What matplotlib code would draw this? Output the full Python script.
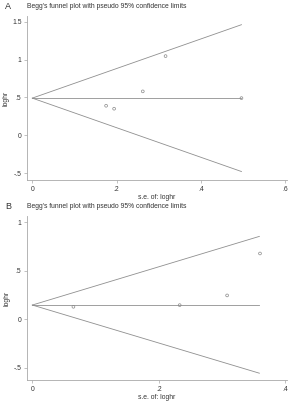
import matplotlib
matplotlib.use("Agg")
import matplotlib.pyplot as plt

plt.rcParams['font.family'] = ['Liberation Sans', 'DejaVu Sans']

# Panel A data
a_se = [0.175, 0.194, 0.262, 0.316, 0.496]
a_loghr = [0.389, 0.350, 0.579, 1.045, 0.490]
a_theta = 0.49
a_funnel_x = [0.0, 0.496]
a_upper = [0.49, 1.46]
a_lower = [0.49, -0.48]
a_xticks = [0, 0.2, 0.4, 0.6]
a_xlabels = ['0', '.2', '.4', '.6']
a_yticks = [-0.5, 0, 0.5, 1, 1.5]
a_ylabels = ['-.5', '0', '.5', '1', '1.5']

# Panel B data
b_se = [0.065, 0.233, 0.308, 0.360]
b_loghr = [0.127, 0.144, 0.244, 0.676]
b_theta = 0.145
b_funnel_x = [0.0, 0.359]
b_upper = [0.145, 0.852]
b_lower = [0.145, -0.557]
b_xticks = [0, 0.2, 0.4]
b_xlabels = ['0', '.2', '.4']
b_yticks = [-0.5, 0, 0.5, 1]
b_ylabels = ['-.5', '0', '.5', '1']

title = "Begg's funnel plot with pseudo 95% confidence limits"
line_col = '#8f8f8f'
axis_col = '#a8a8a8'
text_col = '#333333'
fs = 4.9

fig = plt.figure(figsize=(2.95, 4.01), dpi=100)


def draw_panel(rect, letter, se, loghr, theta, fx, up, lo, xlim, ylim,
               xticks, xlabels, yticks, ylabels):
    ax = fig.add_axes(rect)
    ax.plot(fx, up, color=line_col, lw=0.6)
    ax.plot(fx, lo, color=line_col, lw=0.6)
    ax.plot(fx, [theta, theta], color=line_col, lw=0.6)
    ax.scatter(se, loghr, s=4, facecolors='none', edgecolors='#888888',
               linewidths=0.5, zorder=3)
    ax.set_xlim(*xlim)
    ax.set_ylim(*ylim)
    ax.set_xticks(xticks)
    ax.set_xticklabels(xlabels)
    ax.set_yticks(yticks)
    ax.set_yticklabels(ylabels)
    for s in ['top', 'right']:
        ax.spines[s].set_visible(False)
    for s in ['left', 'bottom']:
        ax.spines[s].set_color(axis_col)
        ax.spines[s].set_linewidth(0.6)
    ax.tick_params(labelsize=fs, colors=axis_col, labelcolor=text_col,
                   length=2.5, width=0.5, pad=1.5)
    ax.set_xlabel('s.e. of: loghr', fontsize=fs, color=text_col, labelpad=1)
    ax.set_ylabel('loghr', fontsize=fs, color=text_col, labelpad=2)
    ax.text(0.0, 1.06, title, transform=ax.transAxes, fontsize=fs,
            color=text_col, ha='left', va='center')
    ax.text(-0.085, 1.06, letter, transform=ax.transAxes, fontsize=6.5,
            color=text_col, ha='left', va='center')
    return ax


draw_panel([27 / 295, 1 - 180 / 401, 260 / 295, 164 / 401], 'A',
           a_se, a_loghr, a_theta, a_funnel_x, a_upper, a_lower,
           (-0.0126, 0.604), (-0.592, 1.575),
           a_xticks, a_xlabels, a_yticks, a_ylabels)

draw_panel([27 / 295, 1 - 380 / 401, 260 / 295, 164 / 401], 'B',
           b_se, b_loghr, b_theta, b_funnel_x, b_upper, b_lower,
           (-0.0084, 0.4027), (-0.627, 1.062),
           b_xticks, b_xlabels, b_yticks, b_ylabels)

fig.savefig('out.png', dpi=100, facecolor='white')
